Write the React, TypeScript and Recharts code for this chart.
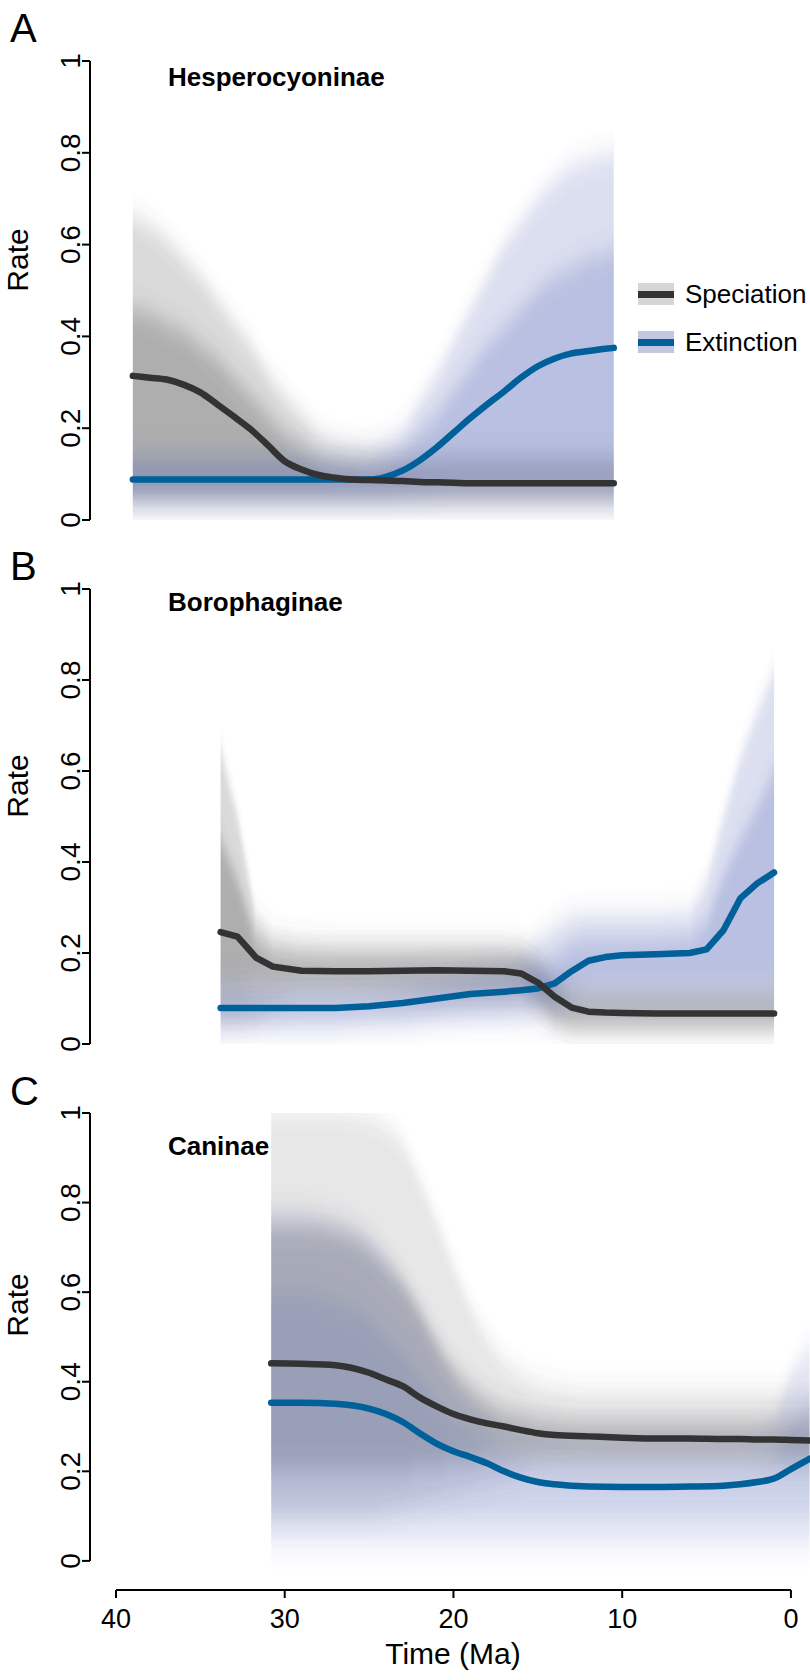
import React from "react";
import { ComposedChart, Area, Line, XAxis, YAxis, ReferenceLine, Legend } from "recharts";

// values (time in Ma, rates)
const aTime = [39, 38, 37, 36, 35, 34, 33, 32, 31, 30, 29, 28, 27, 26, 25, 24, 23, 22, 21, 20, 19, 18, 17, 16, 15, 14, 13, 12, 11, 10.5];
const aSpeciation = [0.314, 0.31, 0.306, 0.295, 0.278, 0.252, 0.225, 0.197, 0.163, 0.128, 0.11, 0.098, 0.092, 0.088, 0.087, 0.086, 0.085, 0.083, 0.082, 0.081, 0.08, 0.08, 0.08, 0.08, 0.08, 0.08, 0.08, 0.08, 0.08, 0.08];
const aExtinction = [0.088, 0.088, 0.088, 0.088, 0.088, 0.088, 0.088, 0.088, 0.088, 0.088, 0.088, 0.088, 0.088, 0.088, 0.088, 0.094, 0.108, 0.13, 0.158, 0.19, 0.222, 0.252, 0.28, 0.31, 0.335, 0.352, 0.363, 0.368, 0.373, 0.375];
const aSpecLo = [0.035, 0.035, 0.035, 0.035, 0.035, 0.035, 0.035, 0.035, 0.035, 0.035, 0.035, 0.035, 0.035, 0.035, 0.035, 0.035, 0.035, 0.035, 0.035, 0.035, 0.035, 0.035, 0.035, 0.035, 0.035, 0.035, 0.035, 0.035, 0.035, 0.035];
const aSpecHi = [0.66, 0.64, 0.61, 0.57, 0.53, 0.48, 0.43, 0.38, 0.32, 0.27, 0.23, 0.19, 0.17, 0.16, 0.155, 0.15, 0.145, 0.14, 0.14, 0.14, 0.14, 0.14, 0.14, 0.14, 0.14, 0.14, 0.14, 0.14, 0.14, 0.14];
const aSpecCoreLo = [0.06, 0.06, 0.06, 0.06, 0.06, 0.06, 0.06, 0.06, 0.06, 0.06, 0.06, 0.06, 0.06, 0.06, 0.06, 0.06, 0.06, 0.06, 0.06, 0.06, 0.06, 0.06, 0.06, 0.06, 0.06, 0.06, 0.06, 0.06, 0.06, 0.06];
const aSpecCoreHi = [0.46, 0.45, 0.43, 0.41, 0.38, 0.35, 0.31, 0.27, 0.23, 0.19, 0.16, 0.13, 0.115, 0.11, 0.105, 0.105, 0.105, 0.105, 0.105, 0.105, 0.105, 0.105, 0.105, 0.105, 0.105, 0.105, 0.105, 0.105, 0.105, 0.105];
const aExtLo = [0.03, 0.03, 0.03, 0.03, 0.03, 0.03, 0.03, 0.03, 0.03, 0.03, 0.03, 0.03, 0.03, 0.03, 0.03, 0.03, 0.03, 0.03, 0.03, 0.03, 0.03, 0.03, 0.03, 0.03, 0.03, 0.03, 0.03, 0.03, 0.03, 0.03];
const aExtHi = [0.14, 0.14, 0.14, 0.14, 0.14, 0.14, 0.14, 0.14, 0.14, 0.14, 0.14, 0.14, 0.14, 0.14, 0.145, 0.17, 0.2, 0.26, 0.32, 0.39, 0.46, 0.53, 0.6, 0.65, 0.7, 0.74, 0.77, 0.785, 0.795, 0.8];
const aExtCoreLo = [0.06, 0.06, 0.06, 0.06, 0.06, 0.06, 0.06, 0.06, 0.06, 0.06, 0.06, 0.06, 0.06, 0.06, 0.06, 0.06, 0.065, 0.07, 0.075, 0.08, 0.08, 0.08, 0.08, 0.08, 0.08, 0.08, 0.08, 0.08, 0.08, 0.08];
const aExtCoreHi = [0.115, 0.115, 0.115, 0.115, 0.115, 0.115, 0.115, 0.115, 0.115, 0.115, 0.115, 0.115, 0.115, 0.115, 0.115, 0.125, 0.15, 0.19, 0.23, 0.28, 0.33, 0.38, 0.42, 0.46, 0.5, 0.53, 0.55, 0.57, 0.58, 0.59];

const bTime = [33.8, 32.8, 31.7, 30.7, 29, 27, 25, 23, 21, 19, 17, 16, 15, 14, 13, 12, 11, 10, 8, 6, 5, 4, 3, 2, 1];
const bSpeciation = [0.246, 0.236, 0.19, 0.17, 0.161, 0.16, 0.16, 0.161, 0.162, 0.161, 0.16, 0.155, 0.135, 0.104, 0.08, 0.071, 0.069, 0.068, 0.067, 0.067, 0.067, 0.067, 0.067, 0.067, 0.067];
const bExtinction = [0.079, 0.079, 0.079, 0.079, 0.079, 0.079, 0.083, 0.09, 0.1, 0.11, 0.115, 0.118, 0.122, 0.133, 0.16, 0.183, 0.191, 0.195, 0.197, 0.2, 0.208, 0.25, 0.32, 0.353, 0.377];
const bSpecLo = [0.05, 0.05, 0.06, 0.08, 0.1, 0.1, 0.1, 0.1, 0.1, 0.1, 0.1, 0.1, 0.07, 0.04, 0.03, 0.03, 0.03, 0.03, 0.03, 0.03, 0.03, 0.03, 0.03, 0.03, 0.03];
const bSpecHi = [0.65, 0.5, 0.28, 0.235, 0.225, 0.22, 0.22, 0.22, 0.22, 0.22, 0.22, 0.215, 0.19, 0.15, 0.13, 0.125, 0.125, 0.125, 0.125, 0.125, 0.125, 0.125, 0.125, 0.125, 0.125];
const bSpecCoreLo = [0.12, 0.12, 0.13, 0.13, 0.13, 0.13, 0.13, 0.13, 0.13, 0.13, 0.13, 0.13, 0.1, 0.06, 0.045, 0.045, 0.045, 0.045, 0.045, 0.045, 0.045, 0.045, 0.045, 0.045, 0.045];
const bSpecCoreHi = [0.45, 0.36, 0.23, 0.2, 0.19, 0.19, 0.19, 0.19, 0.19, 0.19, 0.19, 0.185, 0.165, 0.125, 0.1, 0.095, 0.095, 0.095, 0.095, 0.095, 0.095, 0.095, 0.095, 0.095, 0.095];
const bExtLo = [0.03, 0.03, 0.03, 0.03, 0.03, 0.03, 0.04, 0.04, 0.05, 0.05, 0.05, 0.05, 0.06, 0.07, 0.08, 0.08, 0.08, 0.08, 0.08, 0.08, 0.08, 0.08, 0.08, 0.08, 0.08];
const bExtHi = [0.13, 0.13, 0.13, 0.13, 0.13, 0.13, 0.135, 0.14, 0.15, 0.16, 0.17, 0.19, 0.23, 0.26, 0.28, 0.285, 0.285, 0.285, 0.285, 0.29, 0.36, 0.5, 0.63, 0.73, 0.82];
const bExtCoreLo = [0.06, 0.06, 0.06, 0.06, 0.06, 0.06, 0.06, 0.065, 0.07, 0.08, 0.085, 0.09, 0.1, 0.11, 0.12, 0.13, 0.13, 0.13, 0.13, 0.13, 0.13, 0.13, 0.13, 0.13, 0.13];
const bExtCoreHi = [0.1, 0.1, 0.1, 0.1, 0.1, 0.1, 0.1, 0.11, 0.12, 0.125, 0.13, 0.14, 0.16, 0.19, 0.22, 0.23, 0.23, 0.23, 0.23, 0.235, 0.27, 0.37, 0.45, 0.52, 0.6];

const cTime = [30.8, 29, 27, 25, 24, 23, 22, 21, 20, 19, 18, 17, 16, 15, 14, 12, 10, 8, 6, 4, 3, 2, 1, 0, -1.1];
const cSpeciation = [0.441, 0.44, 0.437, 0.42, 0.405, 0.39, 0.365, 0.345, 0.328, 0.316, 0.307, 0.3, 0.292, 0.285, 0.281, 0.278, 0.275, 0.273, 0.273, 0.272, 0.272, 0.271, 0.271, 0.27, 0.269];
const cExtinction = [0.353, 0.353, 0.351, 0.34, 0.328, 0.31, 0.285, 0.262, 0.245, 0.232, 0.218, 0.2, 0.186, 0.176, 0.171, 0.166, 0.165, 0.165, 0.166, 0.168, 0.171, 0.176, 0.184, 0.205, 0.228];
const cSpecLo = [0.1, 0.1, 0.1, 0.1, 0.11, 0.12, 0.13, 0.14, 0.15, 0.16, 0.17, 0.18, 0.19, 0.2, 0.2, 0.2, 0.2, 0.2, 0.2, 0.2, 0.2, 0.2, 0.2, 0.2, 0.2];
const cSpecHi = [1, 1, 1, 0.99, 0.97, 0.93, 0.85, 0.76, 0.66, 0.57, 0.5, 0.45, 0.42, 0.4, 0.39, 0.38, 0.38, 0.38, 0.38, 0.38, 0.38, 0.38, 0.38, 0.38, 0.38];
const cSpecCoreLo = [0.2, 0.2, 0.2, 0.2, 0.2, 0.2, 0.21, 0.21, 0.22, 0.22, 0.23, 0.23, 0.23, 0.23, 0.23, 0.23, 0.23, 0.23, 0.23, 0.23, 0.23, 0.23, 0.23, 0.23, 0.23];
const cSpecCoreHi = [0.75, 0.75, 0.74, 0.7, 0.66, 0.62, 0.56, 0.49, 0.43, 0.39, 0.36, 0.34, 0.33, 0.32, 0.315, 0.31, 0.31, 0.31, 0.31, 0.31, 0.31, 0.31, 0.31, 0.31, 0.31];
const cExtLo = [0.035, 0.035, 0.035, 0.035, 0.035, 0.035, 0.035, 0.035, 0.035, 0.035, 0.035, 0.035, 0.035, 0.035, 0.035, 0.035, 0.035, 0.035, 0.035, 0.035, 0.035, 0.035, 0.035, 0.035, 0.035];
const cExtHi = [0.78, 0.78, 0.76, 0.72, 0.68, 0.62, 0.55, 0.48, 0.42, 0.37, 0.34, 0.31, 0.3, 0.29, 0.285, 0.28, 0.28, 0.28, 0.28, 0.28, 0.28, 0.29, 0.32, 0.42, 0.48];
const cExtCoreLo = [0.1, 0.1, 0.1, 0.1, 0.1, 0.1, 0.1, 0.1, 0.1, 0.1, 0.1, 0.1, 0.1, 0.1, 0.1, 0.1, 0.1, 0.1, 0.1, 0.1, 0.1, 0.1, 0.1, 0.1, 0.1];
const cExtCoreHi = [0.6, 0.6, 0.58, 0.54, 0.5, 0.46, 0.41, 0.36, 0.32, 0.29, 0.27, 0.25, 0.235, 0.225, 0.22, 0.22, 0.22, 0.22, 0.22, 0.22, 0.22, 0.225, 0.24, 0.3, 0.35];

const rateTicks = [0, 0.2, 0.4, 0.6, 0.8, 1];
const timeTicks = [40, 30, 20, 10, 0];
const panelLetters = ["A", "B", "C"];
const panelTitles = ["Hesperocyoninae", "Borophaginae", "Caninae"];
const legendNames = ["Speciation", "Extinction"];

const FONT = "'Liberation Sans', Arial, Helvetica, sans-serif";
const SPEC = "#333333";
const EXT = "#00609a";
const SPEC_BAND = "#555555";
const EXT_BAND = "#4a63b5";
const X_EDGE = 41.54;
const X_DOMAIN: [number, number] = [-1.13, X_EDGE];

const buildRows = (
  time: number[], sp: number[], ex: number[],
  spLo: number[], spHi: number[], spCLo: number[], spCHi: number[],
  exLo: number[], exHi: number[], exCLo: number[], exCHi: number[]
) =>
  time.map((t, i) => ({
    t,
    sp: sp[i],
    ex: ex[i],
    spOuter: [spLo[i], spHi[i]],
    spCore: [spCLo[i], spCHi[i]],
    exOuter: [exLo[i], exHi[i]],
    exCore: [exCLo[i], exCHi[i]],
  }));

const rowsA = buildRows(aTime, aSpeciation, aExtinction, aSpecLo, aSpecHi, aSpecCoreLo, aSpecCoreHi, aExtLo, aExtHi, aExtCoreLo, aExtCoreHi);
const rowsB = buildRows(bTime, bSpeciation, bExtinction, bSpecLo, bSpecHi, bSpecCoreLo, bSpecCoreHi, bExtLo, bExtHi, bExtCoreLo, bExtCoreHi);
const rowsC = buildRows(cTime, cSpeciation, cExtinction, cSpecLo, cSpecHi, cSpecCoreLo, cSpecCoreHi, cExtLo, cExtHi, cExtCoreLo, cExtCoreHi);

const YTick = (props: any) => {
  const { x, y, payload } = props;
  return (
    <text x={x} y={y} transform={`rotate(-90, ${x}, ${y})`} textAnchor="middle" fontSize={28} fontFamily={FONT} fill="#000">
      {payload.value}
    </text>
  );
};

const XTick = (props: any) => {
  const { x, y, payload } = props;
  return (
    <text x={x} y={y + 28} textAnchor="middle" fontSize={27} fontFamily={FONT} fill="#000">
      {payload.value}
    </text>
  );
};

const legendLines = [SPEC, EXT];
const legendFills = ["#d6d6d6", "#c3c8e0"];

const renderLegend = () => (
  <div style={{ fontFamily: FONT, fontSize: 26, color: "#000" }}>
    {legendNames.map((name, i) => (
      <div key={name} style={{ display: "flex", alignItems: "center", height: 48 }}>
        <div style={{ position: "relative", width: 36, height: 22, background: legendFills[i] }}>
          <div style={{ position: "absolute", left: 0, right: 0, top: 7.5, height: 7, background: legendLines[i] }} />
        </div>
        <span style={{ marginLeft: 11 }}>{name}</span>
      </div>
    ))}
  </div>
);

type PanelProps = {
  rows: ReturnType<typeof buildRows>;
  top: number;
  height: number;
  margin: { top: number; right: number; bottom: number; left: number };
  yMin: number;
  showX?: boolean;
  showLegend?: boolean;
  curve: "monotone" | "linear";
  grayOuter: number;
  blueOuter: number;
  blueCore: number;
};

const Panel = ({ rows, top, height, margin, yMin, showX, showLegend, curve, grayOuter, blueOuter, blueCore }: PanelProps) => (
  <div style={{ position: "absolute", left: 0, top }}>
    <ComposedChart width={810} height={height} data={rows} margin={margin}>
      <defs>
        <filter id="softBand" filterUnits="userSpaceOnUse" x="0" y="-100" width="820" height="900">
          <feGaussianBlur stdDeviation="0 13" />
        </filter>
      </defs>
      <XAxis
        dataKey="t"
        type="number"
        domain={X_DOMAIN}
        reversed
        allowDataOverflow
        hide={!showX}
        ticks={timeTicks}
        interval={0}
        axisLine={false}
        tickLine={{ stroke: "#000", strokeWidth: 2 }}
        tickSize={8}
        tick={XTick}
        height={90}
      />
      <YAxis
        type="number"
        domain={[yMin, 1]}
        allowDataOverflow
        ticks={rateTicks}
        interval={0}
        width={90}
        axisLine={false}
        tickLine={{ stroke: "#000", strokeWidth: 2 }}
        tickSize={8}
        tickMargin={2}
        tick={YTick}
      />
      <Area dataKey="spOuter" type={curve} stroke="none" fill={SPEC_BAND} fillOpacity={grayOuter} filter="url(#softBand)" dot={false} activeDot={false} isAnimationActive={false} />
      <Area dataKey="spCore" type={curve} stroke="none" fill={SPEC_BAND} fillOpacity={0.32} filter="url(#softBand)" dot={false} activeDot={false} isAnimationActive={false} />
      <Area dataKey="exOuter" type={curve} stroke="none" fill={EXT_BAND} fillOpacity={blueOuter} filter="url(#softBand)" dot={false} activeDot={false} isAnimationActive={false} />
      <Area dataKey="exCore" type={curve} stroke="none" fill={EXT_BAND} fillOpacity={blueCore} filter="url(#softBand)" dot={false} activeDot={false} isAnimationActive={false} />
      <Line dataKey="ex" type={curve} stroke={EXT} strokeWidth={6.5} strokeLinecap="round" strokeLinejoin="round" dot={false} activeDot={false} isAnimationActive={false} />
      <Line dataKey="sp" type={curve} stroke={SPEC} strokeWidth={6.5} strokeLinecap="round" strokeLinejoin="round" dot={false} activeDot={false} isAnimationActive={false} />
      <ReferenceLine segment={[{ x: X_EDGE, y: 0 }, { x: X_EDGE, y: 1 }]} stroke="#000" strokeWidth={2} ifOverflow="visible" />
      {showX && (
        <ReferenceLine segment={[{ x: 40, y: yMin }, { x: 0, y: yMin }]} stroke="#000" strokeWidth={2} ifOverflow="visible" />
      )}
      {showLegend && (
        <Legend
          layout="horizontal"
          verticalAlign="middle"
          align="center"
          content={renderLegend}
          wrapperStyle={{ left: 638, top: 270, width: 172, height: 96 }}
        />
      )}
    </ComposedChart>
  </div>
);

const letterY = [42, 580, 1105];
const titleY = [86, 611, 1155];
const rateY = [260, 786, 1305];

export default function App() {
  return (
    <div style={{ position: "absolute", left: 0, top: 0, width: 810, height: 1680, background: "#fff" }}>
      <Panel rows={rowsA} top={0} height={540} margin={{ top: 61, right: 0, bottom: 20, left: 0 }} yMin={0} showLegend curve="monotone" grayOuter={0.22} blueOuter={0.2} blueCore={0.25} />
      <Panel rows={rowsB} top={540} height={520} margin={{ top: 49, right: 0, bottom: 16, left: 0 }} yMin={0} curve="linear" grayOuter={0.22} blueOuter={0.2} blueCore={0.25} />
      <Panel rows={rowsC} top={1060} height={620} margin={{ top: 53, right: 0, bottom: 0, left: 0 }} yMin={-0.065} showX curve="monotone" grayOuter={0.14} blueOuter={0.15} blueCore={0.16} />
      <svg width={810} height={1680} style={{ position: "absolute", left: 0, top: 0, pointerEvents: "none" }}>
        {panelLetters.map((l, i) => (
          <text key={l} x={10} y={letterY[i]} fontSize={40} fontFamily={FONT} fill="#000">{l}</text>
        ))}
        {panelTitles.map((t, i) => (
          <text key={t} x={168} y={titleY[i]} fontSize={26} fontWeight="bold" fontFamily={FONT} fill="#000">{t}</text>
        ))}
        {rateY.map((y) => (
          <text key={y} x={28} y={y} transform={`rotate(-90, 28, ${y})`} textAnchor="middle" fontSize={30} fontFamily={FONT} fill="#000">Rate</text>
        ))}
        <text x={453} y={1664} textAnchor="middle" fontSize={30} fontFamily={FONT} fill="#000">Time (Ma)</text>
      </svg>
    </div>
  );
}
